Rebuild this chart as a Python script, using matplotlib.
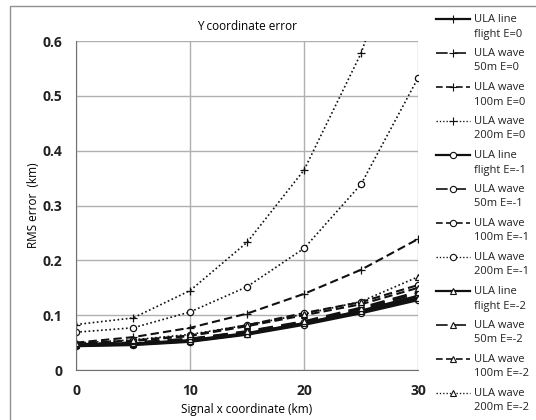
import matplotlib.pyplot as plt
import matplotlib.patches as patches
from matplotlib.lines import Line2D

x_km = [0, 5, 10, 15, 20, 25, 30]

line_e0 = [0.046, 0.048, 0.054, 0.067, 0.085, 0.108, 0.135]
w50_e0 = [0.047, 0.050, 0.057, 0.070, 0.088, 0.112, 0.140]
w100_e0 = [0.050, 0.060, 0.077, 0.103, 0.139, 0.183, 0.239]
w200_e0 = [0.083, 0.095, 0.145, 0.233, 0.365, 0.578, 0.880]

line_e1 = [0.044, 0.046, 0.052, 0.065, 0.083, 0.104, 0.128]
w50_e1 = [0.046, 0.049, 0.056, 0.069, 0.087, 0.110, 0.136]
w100_e1 = [0.048, 0.054, 0.063, 0.082, 0.104, 0.124, 0.155]
w200_e1 = [0.069, 0.077, 0.106, 0.152, 0.222, 0.339, 0.533]

line_e2 = [0.045, 0.047, 0.053, 0.066, 0.085, 0.107, 0.132]
w50_e2 = [0.047, 0.050, 0.057, 0.071, 0.089, 0.114, 0.143]
w100_e2 = [0.048, 0.053, 0.062, 0.080, 0.100, 0.120, 0.150]
w200_e2 = [0.049, 0.055, 0.065, 0.082, 0.102, 0.125, 0.170]

series = [
    (line_e0, 'ULA line\nflight E=0', '-', '+'),
    (w50_e0, 'ULA wave\n50m E=0', (0, (7, 4)), '+'),
    (w100_e0, 'ULA wave\n100m E=0', (0, (4, 2)), '+'),
    (w200_e0, 'ULA wave\n200m E=0', (0, (1, 1.5)), '+'),
    (line_e1, 'ULA line\nflight E=-1', '-', 'o'),
    (w50_e1, 'ULA wave\n50m E=-1', (0, (7, 4)), 'o'),
    (w100_e1, 'ULA wave\n100m E=-1', (0, (4, 2)), 'o'),
    (w200_e1, 'ULA wave\n200m E=-1', (0, (1, 1.5)), 'o'),
    (line_e2, 'ULA line\nflight E=-2', '-', '^'),
    (w50_e2, 'ULA wave\n50m E=-2', (0, (7, 4)), '^'),
    (w100_e2, 'ULA wave\n100m E=-2', (0, (4, 2)), '^'),
    (w200_e2, 'ULA wave\n200m E=-2', (0, (1, 1.5)), '^'),
]

plt.rcParams['font.family'] = ['Open Sans', 'DejaVu Sans']

W, H = 536, 420
fig = plt.figure(figsize=(5.36, 4.2), dpi=100)
ax = fig.add_axes([0.142, 0.119, 0.638, 0.783])


def line_width(ls):
    if ls == '-':
        return 2.0
    if ls == (0, (1, 1.5)):
        return 1.2
    return 1.5


def marker_style(mk):
    if mk == '+':
        return dict(marker='+', markersize=6, markerfacecolor='none')
    return dict(marker=mk, markersize=4.5, markerfacecolor='white')


for vals, label, ls, mk in series:
    ax.plot(x_km, vals, linestyle=ls, color='#111111', linewidth=line_width(ls),
            markeredgecolor='#111111', markeredgewidth=0.9, label=label,
            **marker_style(mk))

ax.set_xlim(0, 30)
ax.set_ylim(0, 0.6)
ax.set_xticks([0, 10, 20, 30])
ax.set_yticks([0, 0.1, 0.2, 0.3, 0.4, 0.5, 0.6])
ax.set_yticklabels(['0', '0.1', '0.2', '0.3', '0.4', '0.5', '0.6'])
ax.grid(True, color='#b0b0b0', linewidth=1.0)
ax.set_axisbelow(True)
for s in ['top', 'right']:
    ax.spines[s].set_visible(False)
for s in ['left', 'bottom']:
    ax.spines[s].set_color('#707070')
ax.tick_params(length=0, labelsize=10, pad=10)
for t in ax.get_xticklabels() + ax.get_yticklabels():
    t.set_fontweight('bold')
    t.set_color('#222222')

ax.set_title('Y coordinate error', fontsize=8.5, pad=8)
ax.set_xlabel('Signal x coordinate (km)', fontsize=8.5, labelpad=4)
ax.set_ylabel('RMS error  (km)', fontsize=8.5, labelpad=2)

# legend drawn by hand: handle sits level with the first text line
for i, (vals, label, ls, mk) in enumerate(series):
    yy = 1 - (19 + i * 34.0) / H
    fig.add_artist(Line2D([436 / W, 453 / W, 470 / W], [yy, yy, yy],
                          transform=fig.transFigure, linestyle=ls, color='#111111',
                          linewidth=line_width(ls) * 0.8, markevery=[1],
                          markeredgecolor='#111111', markeredgewidth=0.8,
                          **marker_style(mk)))
    fig.text(474 / W, yy + 5.5 / H, label, fontsize=8, va='top', ha='left',
             linespacing=1.5, color='#222222')

fig.patches.append(patches.Rectangle((10 / W, -0.1), 1.0, 1.1 - 6 / H,
                                     transform=fig.transFigure, fill=False,
                                     edgecolor='#909090', linewidth=1.0))

fig.savefig('out.png', dpi=100)
